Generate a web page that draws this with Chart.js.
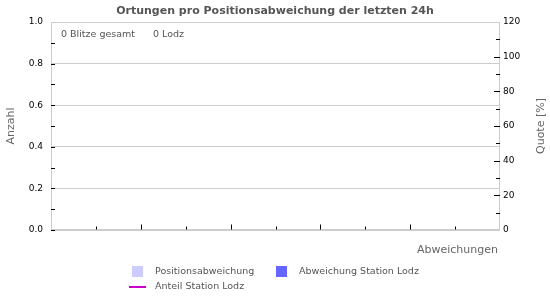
<!DOCTYPE html>
<html>
<head>
<meta charset="utf-8">
<script src="https://cdn.jsdelivr.net/npm/chart.js@4/dist/chart.umd.min.js"></script>
<style>
  html, body { margin: 0; padding: 0; background: #ffffff; }
  #wrap { width: 550px; height: 300px; position: relative; }
</style>
</head>
<body>
<div id="wrap"><canvas id="c" width="550" height="300"></canvas></div>
<script>
// ---- data ----
const categories = ['', '', '', '', '', '', '', '', '', ''];
const positionsabweichung = [0, 0, 0, 0, 0, 0, 0, 0, 0, 0];
const abweichungStationLodz = [0, 0, 0, 0, 0, 0, 0, 0, 0, 0];
const anteilStationLodz = [null, null, null, null, null, null, null, null, null, null];
const leftTickValues = [0, 0.2, 0.4, 0.6, 0.8, 1.0];
const rightTickValues = [0, 20, 40, 60, 80, 100, 120];
const blitzeGesamt = 0;
const blitzeLodz = 0;
const stationName = 'Lodz';

const FONT = '"DejaVu Sans", Verdana, sans-serif';

const decoPlugin = {
  id: 'deco',
  afterDraw(chart) {
    const ctx = chart.ctx;
    const a = chart.chartArea;
    const L = Math.round(a.left) + 0.5, R = Math.round(a.right) - 0.5;
    const T = Math.round(a.top) + 0.5, B = Math.round(a.bottom) - 0.5;
    ctx.save();
    // frame
    ctx.strokeStyle = '#cccccc';
    ctx.lineWidth = 1;
    ctx.strokeRect(L, T, R - L, B - T);

    // tick marks (inward)
    ctx.strokeStyle = '#000000';
    ctx.beginPath();
    const yl = chart.scales.y;
    for (let k = 0; k <= 10; k++) {
      const v = leftTickValues[0] + k * (leftTickValues[1] - leftTickValues[0]) / 2;
      const py = Math.round(yl.getPixelForValue(v)) + 0.5;
      if (py <= T + 1) continue;
      ctx.moveTo(L - 0.5, py); ctx.lineTo(L + 3.5, py);
    }
    const yr = chart.scales.y1;
    for (let k = 0; k <= 12; k++) {
      const v = rightTickValues[0] + k * (rightTickValues[1] - rightTickValues[0]) / 2;
      const py = Math.round(yr.getPixelForValue(v)) + 0.5;
      if (py <= T + 1 || py >= B - 1) continue;
      ctx.moveTo(R + 0.5, py); ctx.lineTo(R - (k % 2 ? 3.5 : 5.5), py);
    }
    const xs = chart.scales.x;
    const n = chart.data.labels.length;
    for (let i = 1; i < n; i++) {
      const px = Math.round((xs.getPixelForValue(i - 1) + xs.getPixelForValue(i)) / 2) + 0.5;
      const len = (i % 2 === 0) ? 5 : 3;
      ctx.moveTo(px, B); ctx.lineTo(px, B - len);
    }
    ctx.stroke();

    // title
    ctx.fillStyle = '#555555';
    ctx.font = 'bold 11px ' + FONT;
    ctx.textAlign = 'center';
    ctx.textBaseline = 'middle';
    ctx.fillText('Ortungen pro Positionsabweichung der letzten 24h', 275, 11);

    // info text
    ctx.font = '9.5px ' + FONT;
    ctx.textAlign = 'left';
    ctx.fillStyle = '#555555';
    ctx.fillText(blitzeGesamt + ' Blitze gesamt', 61, 35);
    ctx.fillText(blitzeLodz + ' ' + stationName, 153, 35);

    // axis titles
    ctx.fillStyle = '#666666';
    ctx.font = '11px ' + FONT;
    ctx.textAlign = 'right';
    ctx.fillText('Abweichungen', 498, 250);
    ctx.textAlign = 'center';
    const cy = (a.top + a.bottom) / 2;
    ctx.save();
    ctx.translate(11, cy);
    ctx.rotate(-Math.PI / 2);
    ctx.fillText('Anzahl', 0, 0);
    ctx.restore();
    ctx.save();
    ctx.translate(541, cy);
    ctx.rotate(-Math.PI / 2);
    ctx.fillText('Quote [%]', 0, 0);
    ctx.restore();

    // legend
    const ds = chart.data.datasets;
    const items = [
      { d: ds[0], x: 132, y: 272 },
      { d: ds[1], x: 276, y: 272 },
      { d: ds[2], x: 129, y: 287 }
    ];
    ctx.font = '9.5px ' + FONT;
    ctx.textAlign = 'left';
    ctx.textBaseline = 'middle';
    items.forEach(it => {
      if (it.d.type === 'line') {
        ctx.strokeStyle = it.d.borderColor;
        ctx.lineWidth = 2;
        ctx.beginPath();
        ctx.moveTo(it.x, it.y);
        ctx.lineTo(it.x + 17, it.y);
        ctx.stroke();
        ctx.fillStyle = '#555555';
        ctx.fillText(it.d.label, it.x + 26, it.y);
      } else {
        ctx.fillStyle = it.d.backgroundColor;
        ctx.fillRect(it.x, it.y - 6, 11, 11);
        ctx.fillStyle = '#555555';
        ctx.fillText(it.d.label, it.x + 23, it.y);
      }
    });
    ctx.restore();
  }
};

new Chart(document.getElementById('c'), {
  data: {
    labels: categories,
    datasets: [
      { type: 'bar', label: 'Positionsabweichung', data: positionsabweichung,
        backgroundColor: '#ccccff', borderWidth: 0, yAxisID: 'y', grouped: false, order: 3 },
      { type: 'bar', label: 'Abweichung Station Lodz', data: abweichungStationLodz,
        backgroundColor: '#6666ff', borderWidth: 0, yAxisID: 'y', grouped: false, order: 2 },
      { type: 'line', label: 'Anteil Station Lodz', data: anteilStationLodz,
        borderColor: '#cc00cc', backgroundColor: '#cc00cc', borderWidth: 2,
        pointRadius: 0, yAxisID: 'y1', order: 1 }
    ]
  },
  options: {
    responsive: false,
    animation: false,
    devicePixelRatio: 1,
    layout: { padding: { top: 22, left: 0, right: 0, bottom: 0 } },
    plugins: { legend: { display: false }, title: { display: false }, tooltip: { enabled: false } },
    scales: {
      x: {
        type: 'category', offset: true,
        grid: { display: false }, border: { display: false },
        ticks: { display: false },
        afterFit(s) { s.height = 70; }
      },
      y: {
        position: 'left', min: leftTickValues[0], max: leftTickValues[leftTickValues.length - 1],
        afterBuildTicks(s) { s.ticks = leftTickValues.map(v => ({ value: v })); },
        ticks: { color: '#000000', font: { family: FONT, size: 9 }, padding: 8,
          callback: v => Number(v).toFixed(1) },
        grid: { color: '#cccccc', lineWidth: 1, drawTicks: false },
        border: { display: false },
        afterFit(s) { s.width = 51; }
      },
      y1: {
        position: 'right', min: rightTickValues[0], max: rightTickValues[rightTickValues.length - 1],
        afterBuildTicks(s) { s.ticks = rightTickValues.map(v => ({ value: v })); },
        ticks: { color: '#000000', font: { family: FONT, size: 9 }, padding: 3,
          callback: v => String(v) },
        grid: { drawOnChartArea: false, drawTicks: false },
        border: { display: false },
        afterFit(s) { s.width = 50; }
      }
    }
  },
  plugins: [decoPlugin]
});
</script>
</body>
</html>
